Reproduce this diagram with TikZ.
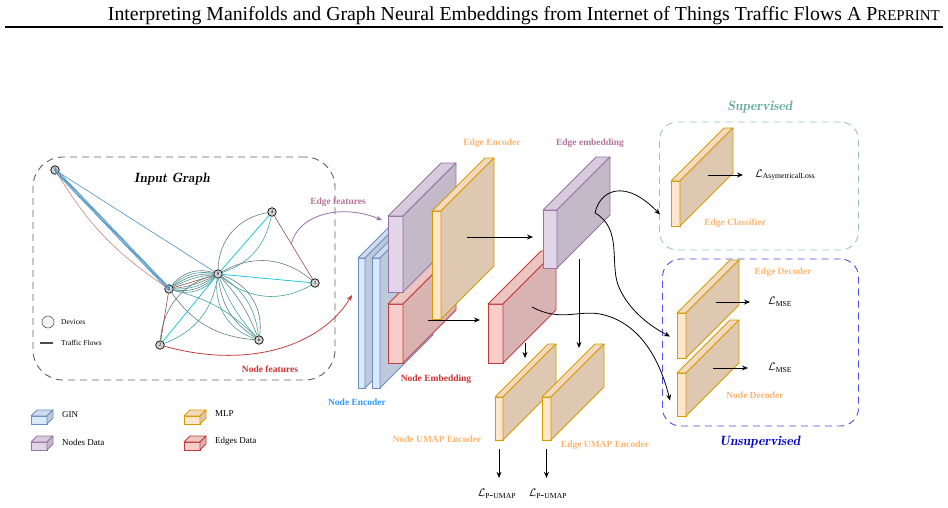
\documentclass[tikz,border=0pt]{standalone}
\usepackage{fontspec}
\setmainfont{Liberation Serif}
\usepackage{tikz}
\usetikzlibrary{arrows.meta,calc,positioning}
\definecolor{ginbg}{HTML}{DAE8FC}
\definecolor{gindraw}{HTML}{6C8EBF}
\definecolor{mlpbg}{HTML}{FFE6CC}
\definecolor{mlpdraw}{HTML}{D79B00}
\definecolor{nodebg}{HTML}{E1D5E7}
\definecolor{nodedraw}{HTML}{9673A6}
\definecolor{edgebg}{HTML}{F8CECC}
\definecolor{edgedraw}{HTML}{C43C3A}
\definecolor{labmlp}{HTML}{FFB570}
\definecolor{labmauve}{HTML}{B5739D}
\definecolor{labred}{HTML}{CC3333}
\definecolor{labblue}{HTML}{3399FF}
\definecolor{supteal}{HTML}{67AB9F}
\definecolor{supdash}{HTML}{9AC7BF}
\definecolor{unsupblue}{HTML}{0000CC}
\definecolor{unsupdash}{HTML}{4C4CE6}
\definecolor{flowblue}{RGB}{74,144,196}
\definecolor{flowcyan}{RGB}{30,200,215}
\definecolor{flowteal}{RGB}{70,160,165}
\definecolor{flowgray}{RGB}{100,125,125}
\definecolor{flowbrown}{RGB}{150,75,60}
\definecolor{flowrose}{RGB}{195,135,125}
\newcommand{\LabFont}{\fontsize{9.5}{11}\selectfont\bfseries}
\newcommand{\LegFont}{\fontsize{9}{10}\selectfont}
\newcommand{\LossFont}{\fontsize{11}{12}\selectfont}
\newcommand{\TitleFont}{\fontfamily{lmr}\fontseries{b}\itshape\fontsize{13.5}{16}\selectfont}
\newcommand{\slab}[7][53]{%
  \node[slabfront=#3, minimum width=#6, minimum height=#7, anchor=north west] (#2) at (#4,#5) {};
  \draw[slabtop=#3] (#2.north west) -- ++(#1,-#1) -- ++(#6,0) -- (#2.north east) -- cycle;
  \draw[slabside=#3] (#2.north east) -- ++(#1,-#1) -- ++(0,#7) -- (#2.south east) -- cycle;
}
\tikzset{
  slabfront/.style={rectangle, draw=#1draw, fill=#1bg, line width=0.9pt, inner sep=0pt, outer sep=0pt},
  slabtop/.style={draw=#1draw, fill=#1bg!95!black, line width=0.9pt, line join=round},
  slabside/.style={draw=#1draw, fill=#1bg!87!black, line width=0.9pt, line join=round},
  flow/.style={-{Stealth[length=6pt, width=5pt]}, line width=0.8pt, draw=black},
  groupbox/.style={rectangle, line width=0.9pt, dash pattern=on 7pt off 5pt, inner sep=0pt},
  device/.style={circle, draw=black, fill=gray!35, line width=0.7pt, inner sep=0pt, minimum size=8.5, font=\fontsize{5}{5}\selectfont},
  edgeflow/.style={draw=#1, line width=0.6pt},
  lab/.style={font=\LabFont, text=#1, inner sep=1pt},
  legtext/.style={font=\LegFont, anchor=west, inner sep=0pt}
}
\begin{document}
\begin{tikzpicture}[x=1pt, y=-1pt]
  \useasboundingbox (0,0) rectangle (948,507);
  % running head
  \node[anchor=base east, inner sep=0pt, font=\fontsize{19.8}{22}\selectfont] (runhead) at (940,20) {Interpreting Manifolds and Graph Neural Embeddings from Internet of Things Traffic Flows A P{\fontsize{15}{16}\selectfont REPRINT}};
  \draw[line width=1.1pt] (5,27) -- (943,27);

  % input graph
  \node[groupbox, draw=gray!75!black, minimum width=302, minimum height=223, rounded corners=30pt] (ingraph) at (184,268.5) {};
  \node[font=\TitleFont] (ingtitle) at (172,179) {Input Graph};
  \node[device] (n5) at (55,170) {5};
  \node[device] (n4) at (272,212) {4};
  \node[device] (n0) at (218,274) {0};
  \node[device] (n1) at (315,283) {1};
  \node[device] (n3) at (169,289) {3};
  \node[device] (n2) at (160,345) {2};
  \node[device] (n6) at (259,340) {6};
  \draw[edgeflow=flowblue] (n5) -- (n0);
  \foreach \s in {-1.8,-0.6,0.6,1.8}
    \draw[edgeflow=flowblue] ([yshift=\s pt]n5.center) -- ([yshift=\s pt]n3.center);
  \draw[edgeflow=flowrose] (n5) to[bend right=12] (n3);
  \foreach \b/\c in {-34/flowteal,-26/flowgray,-18/flowteal,-10/flowgray,10/flowteal,18/flowgray,26/flowteal,34/flowgray}
    \draw[edgeflow=\c] (n3) to[bend left=\b] (n0);
  \draw[edgeflow=flowbrown] (n3) -- (n0);
  \draw[edgeflow=flowcyan, line width=0.8pt] (n0) -- (n4);
  \draw[edgeflow=flowgray] (n0) to[bend left=40] (n4);
  \draw[edgeflow=flowteal] (n0) to[bend right=30] (n4);
  \draw[edgeflow=flowcyan, line width=0.8pt] (n0) -- (n1);
  \draw[edgeflow=flowgray] (n0) to[bend left=35] (n1);
  \draw[edgeflow=flowteal] (n0) to[bend right=35] (n1);
  \foreach \b/\c in {-40/flowteal,-25/flowgray,-10/flowteal,10/flowgray,25/flowteal,40/flowgray}
    \draw[edgeflow=\c] (n0) to[bend left=\b] (n6);
  \draw[edgeflow=flowcyan, line width=0.8pt] (n0) -- (n2);
  \draw[edgeflow=flowteal] (n2) to[bend right=30] (n0);
  \draw[edgeflow=flowgray] (n2) to[bend left=35] (n0);
  \draw[edgeflow=flowgray] (n3) to[bend right=25] (n6);
  \draw[edgeflow=flowteal] (n3) to[bend left=15] (n6);
  \draw[edgeflow=flowbrown] (n3) -- (n2);
  \draw[edgeflow=flowbrown] (n4) -- (n1);
  \node[circle, draw=gray!70!black, fill=gray!8, line width=0.6pt, minimum size=12, inner sep=0pt] (lgdev) at (48,322) {};
  \node[legtext, font=\fontsize{7.5}{8}\selectfont] (lgdevtxt) at (61,322) {Devices};
  \coordinate (lgfa) at (40,343);
  \coordinate (lgfb) at (53,343);
  \draw[gray!60!black, line width=1.4pt] (lgfa) -- (lgfb);
  \node[legtext, font=\fontsize{7.5}{8}\selectfont] (lgflowtxt) at (61,343) {Traffic Flows};

  % encoders
  \slab{gin1}{gin}{358}{258}{7}{130}
  \slab{gin2}{gin}{372}{258}{8}{130}
  \slab{edgedata}{edge}{388}{304}{15}{59}
  \slab{nodedata}{node}{388}{216}{15}{76}
  \slab{edgeenc}{mlp}{432}{211}{9}{108}
  \slab{nodeemb}{edge}{488}{304}{15}{59}
  \slab{edgeemb}{node}{543}{210}{14}{58}
  \slab{numap}{mlp}{495}{397}{8}{43}
  \slab{eumap}{mlp}{542}{397}{9}{43}

  % feature arrows
  \draw[-{Stealth[length=6pt, width=5pt]}, line width=0.8pt, draw=nodedraw] ($(n4)!0.45!(n1)$) .. controls (298,215) and (340,203) .. ([xshift=-6pt,yshift=-4pt]nodedata.north west);
  \draw[-{Stealth[length=6pt, width=5pt]}, line width=0.8pt, draw=edgedraw] (n2) .. controls (250,370) and (322,345) .. ([xshift=-36pt,yshift=9pt]edgedata.north west);
  \node[lab=labmauve] (efeat) at (338,202) {Edge features};
  \node[lab=labred] (nfeat) at (270,369) {Node features};
  \node[lab=labblue] (nenclab) at (357,402) {Node Encoder};
  \node[lab=labred] (nemblab) at (436,379) {Node Embedding};
  \node[lab=labmlp] (eenclab) at (492,143) {Edge Encoder};
  \node[lab=labmauve] (eemblab) at (590,143) {Edge embedding};
  \node[lab=labmlp] (numaplab) at (437,439) {Node UMAP Encoder};
  \node[lab=labmlp] (eumaplab) at (605,445) {Edge UMAP Encoder};

  % inner flows
  \coordinate (eeout) at (467,237);
  \draw[flow, shorten >=10pt] (eeout) -- (eeout -| edgeemb.west);
  \coordinate (neout) at (428,320);
  \draw[flow, shorten >=8pt] (neout) -- (neout -| nodeemb.west);
  \coordinate (nedown) at (525,343);
  \draw[flow] (nedown) -- ++(0,15);
  \coordinate (eedown) at (579,259);
  \draw[flow] (eedown) -- ++(0,89);
  \node[font=\LossFont] (lpn) at (497,494) {$\mathcal{L}_{\mathrm{P\mbox{-}UMAP}}$};
  \node[font=\LossFont] (lpe) at (548,494) {$\mathcal{L}_{\mathrm{P\mbox{-}UMAP}}$};
  \draw[flow, shorten <=9pt, shorten >=8pt] (numap.south) -- (lpn.north -| numap.south);
  \draw[flow, shorten <=9pt, shorten >=8pt] (eumap.south) -- (lpe.north -| eumap.south);

  % heads
  \node[groupbox, draw=supdash, minimum width=199, minimum height=128, rounded corners=18pt] (sup) at (759,186) {};
  \node[font=\TitleFont, text=supteal] (suplab) at (760,107) {Supervised};
  \node[groupbox, draw=unsupdash, minimum width=196, minimum height=167, rounded corners=18pt] (unsup) at (760.5,342.5) {};
  \node[font=\TitleFont, text=unsupblue] (unsuplab) at (760,442) {Unsupervised};
  \slab{eclass}{mlp}{671}{181}{9}{45}
  \slab{edec}{mlp}{677}{313}{9}{45}
  \slab{ndec}{mlp}{677}{373}{9}{43}
  \node[lab=labmlp] (eclasslab) at (735,223) {Edge Classifier};
  \node[lab=labmlp] (edeclab) at (783,272) {Edge Decoder};
  \node[lab=labmlp] (ndeclab) at (755,395) {Node Decoder};
  \node[font=\LossFont, anchor=west, inner sep=0pt] (lasym) at (755,175) {$\mathcal{L}_{\mathrm{AsymetricalLoss}}$};
  \node[font=\LossFont, anchor=west, inner sep=0pt] (lmse1) at (768,302) {$\mathcal{L}_{\mathrm{MSE}}$};
  \node[font=\LossFont, anchor=west, inner sep=0pt] (lmse2) at (768,368) {$\mathcal{L}_{\mathrm{MSE}}$};
  \coordinate (ecout) at (708,175);
  \draw[flow, shorten >=12pt] (ecout) -- (lasym.west);
  \coordinate (edout) at (716,302);
  \draw[flow, shorten >=18pt] (edout) -- (lmse1.west);
  \coordinate (ndout) at (713,368);
  \draw[flow, shorten >=20pt] (ndout) -- (lmse2.west);

  % embedding to heads
  \coordinate (embsrc) at (595,213);
  \coordinate (nembsrc) at (532,307);
  \draw[flow] (embsrc) .. controls (600,190) and (625,178) .. ([xshift=-11pt,yshift=-11pt]eclass.west);
  \draw[flow] (embsrc) .. controls (622,228) and (610,262) .. (618,285) .. controls (628,310) and (650,326) .. ([xshift=-7pt,yshift=-1pt]edec.west);
  \draw[flow] (nembsrc) .. controls (560,322) and (578,310) .. (600,314) .. controls (640,322) and (660,360) .. ([xshift=-7pt,yshift=-6pt]ndec.west);

  % legend
  \slab[6]{lggin}{gin}{31}{416}{16}{8}
  \node[legtext] (lggintxt) at (62,415) {GIN};
  \slab[6]{lgnode}{node}{31}{442}{16}{8}
  \node[legtext] (lgnodetxt) at (62,442) {Nodes Data};
  \slab[6]{lgmlp}{mlp}{184}{416}{16}{8}
  \node[legtext] (lgmlptxt) at (215,414) {MLP};
  \slab[6]{lgedge}{edge}{184}{442}{16}{8}
  \node[legtext] (lgedgetxt) at (215,441) {Edges Data};
\end{tikzpicture}
\end{document}
